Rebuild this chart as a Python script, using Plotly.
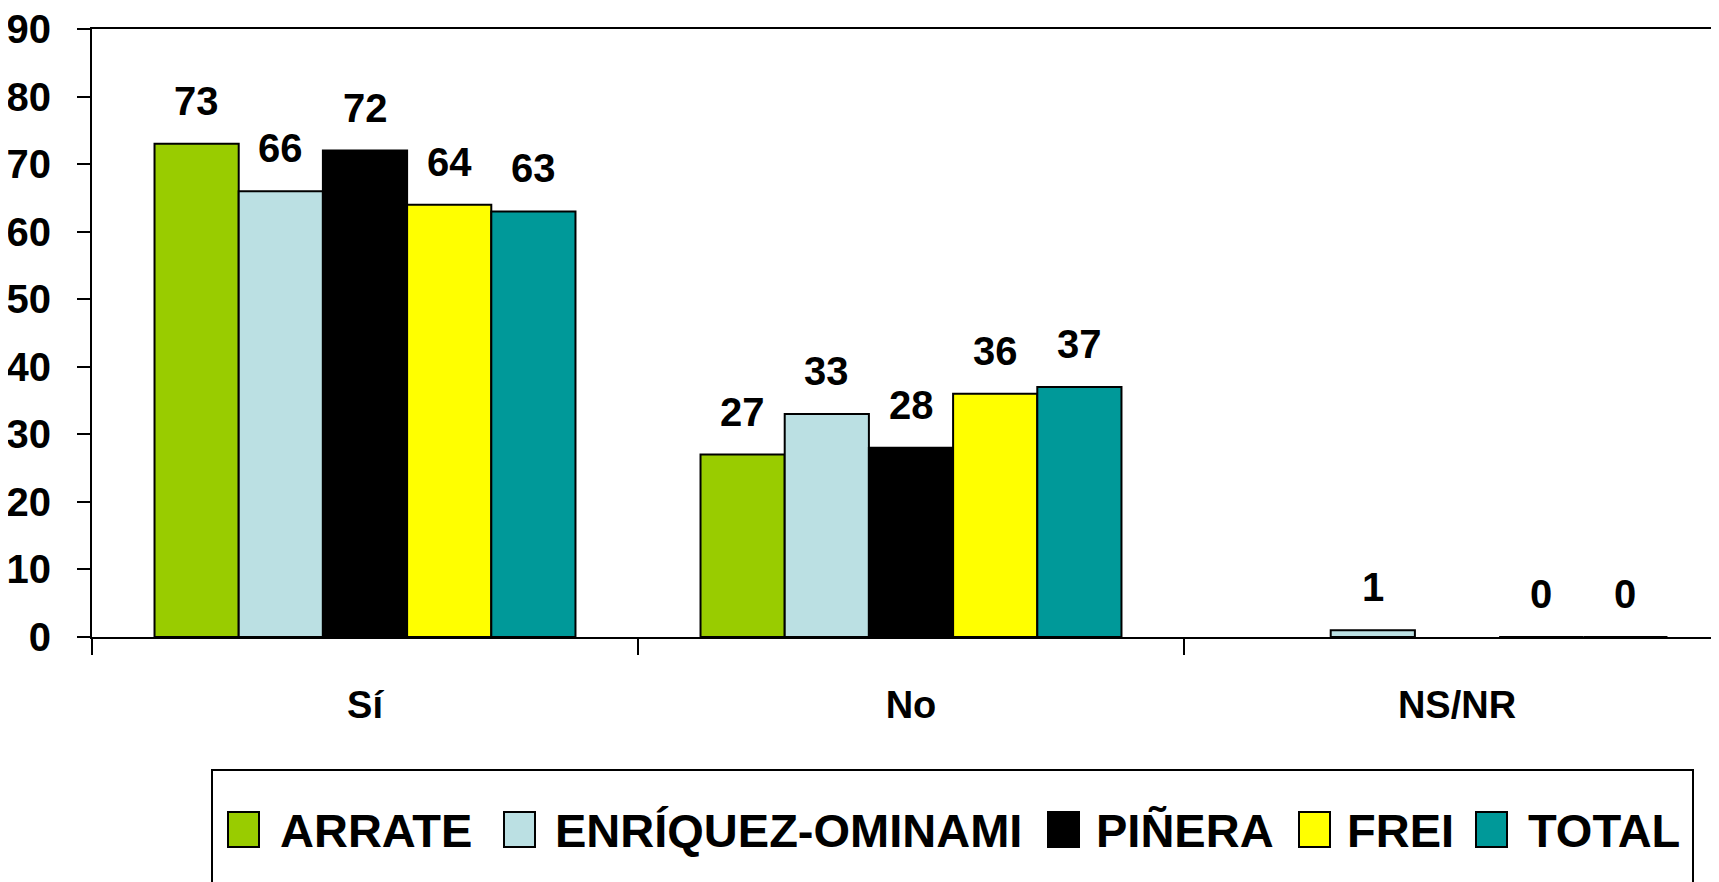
import plotly.graph_objects as go

categories = ["Sí", "No", "NS/NR"]
series_names = ["ARRATE", "ENRÍQUEZ-OMINAMI", "PIÑERA", "FREI", "TOTAL"]
arrate = [73, 27, None]
enriquez = [66, 33, 1]
pinera = [72, 28, None]
frei = [64, 36, 0]
total = [63, 37, 0]
y_ticks = [0, 10, 20, 30, 40, 50, 60, 70, 80, 90]

series_values = [arrate, enriquez, pinera, frei, total]
colors = ["#99CC00", "#BBE0E3", "#000000", "#FFFF00", "#009999"]

OFF = 8  # page body margin
W, H = 1719 - OFF, 882 - OFF
L, T = 92 - OFF, 29 - OFF
B = H - (637 - OFF)
R = 0
PW = W - L - R
PH = H - T - B
FONT = "Liberation Sans, Arial, sans-serif"
BARGAP = 0.229


def px(xs):
    """screen x -> paper"""
    return (xs - OFF - L) / PW


def py(ys):
    """screen y -> paper"""
    return (H - B - (ys - OFF)) / PH


fig = go.Figure()
for name, vals, col in zip(series_names, series_values, colors):
    fig.add_trace(go.Bar(
        x=categories, y=vals, name=name,
        marker=dict(color=col, line=dict(color="#000000", width=2)),
        showlegend=False,
    ))

# data labels
n = len(series_names)
bw = (1 - BARGAP) / n
for i, vals in enumerate(series_values):
    for j, v in enumerate(vals):
        if v is None:
            continue
        fig.add_annotation(
            x=j + (i - (n - 1) / 2) * bw, y=v, xref="x", yref="y",
            text=str(v), showarrow=False, yanchor="bottom", yshift=19,
            font=dict(family=FONT, size=40, color="#000000", weight="bold"),
        )

# legend (manual, large symbols)
fig.add_shape(type="rect", xref="paper", yref="paper",
              x0=px(212), x1=px(1693), y0=py(770), y1=py(905),
              line=dict(color="#000000", width=2), fillcolor="rgba(0,0,0,0)")
marker_x = [228, 504, 1048, 1299, 1476]
text_cx = [376, 788, 1185, 1400, 1604]
for name, col, mx, tx in zip(series_names, colors, marker_x, text_cx):
    fig.add_shape(type="rect", xref="paper", yref="paper",
                  x0=px(mx), x1=px(mx + 31), y0=py(847), y1=py(812),
                  line=dict(color="#000000", width=2), fillcolor=col)
    fig.add_annotation(x=px(tx), y=py(830), xref="paper", yref="paper",
                       text=name, showarrow=False, xanchor="center", yanchor="middle",
                       font=dict(family=FONT, size=47, color="#000000", weight="bold"))

fig.update_layout(
    width=W, height=H,
    margin=dict(l=L, r=R, t=T, b=B, pad=0),
    paper_bgcolor="#FFFFFF", plot_bgcolor="#FFFFFF",
    barmode="group", bargap=BARGAP, bargroupgap=0,
    showlegend=False,
    font=dict(family=FONT, color="#000000"),
)
fig.update_xaxes(
    range=[-0.5, -0.5 + PW / 546], showgrid=False, zeroline=False, automargin=False,
    showline=True, linecolor="#000000", linewidth=2, mirror=True,
    ticks="outside", tickson="boundaries", ticklen=16, tickwidth=2, tickcolor="#000000",
    tickfont=dict(family=FONT, size=38, color="#000000", weight="bold"),
    ticklabelstandoff=33, ticklabeloverflow="allow",
)
fig.update_yaxes(
    range=[0, 90], tickvals=y_ticks, showgrid=False, zeroline=False, automargin=False,
    showline=True, linecolor="#000000", linewidth=2,
    ticks="outside", ticklen=13, tickwidth=2, tickcolor="#000000",
    tickfont=dict(family=FONT, size=40, color="#000000", weight="bold"),
    ticklabelstandoff=18, ticklabeloverflow="allow",
)

fig.write_html("out.html")
